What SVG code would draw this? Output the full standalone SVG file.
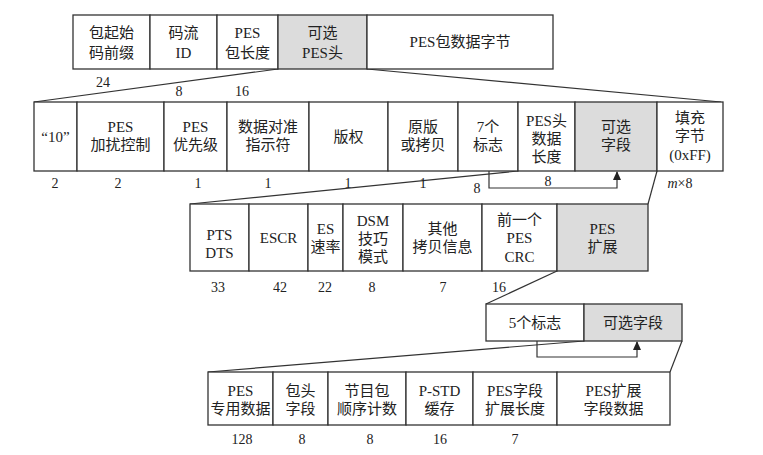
<svg xmlns="http://www.w3.org/2000/svg" width="763" height="455" viewBox="0 0 763 455">
<defs>
<style>
.b{fill:#fff;stroke:#333;stroke-width:1.3}
.g{fill:#dcdcdc;stroke:#333;stroke-width:1.3}
text{font-family:"Liberation Serif","Noto Sans CJK SC",serif;font-size:15px;fill:#222;text-anchor:middle;dominant-baseline:central}
.n{font-size:14px}
.c{fill:none;stroke:#333;stroke-width:1.2}
</style>
<marker id="ah" markerWidth="8" markerHeight="10" refX="4" refY="1" orient="0" markerUnits="userSpaceOnUse">
<path d="M0,9 L4,0 L8,9 Z" fill="#222"/>
</marker>
</defs>
<rect width="763" height="455" fill="#fff"/>
<g id="connectors">
<line class="c" x1="278" y1="69" x2="34" y2="102"/>
<line class="c" x1="367" y1="69" x2="721" y2="102"/>
<line class="c" x1="518" y1="171" x2="190" y2="204"/>
<line class="c" x1="657" y1="171" x2="648" y2="204"/>
<line class="c" x1="557" y1="271" x2="486" y2="304"/>
<line class="c" x1="584" y1="341" x2="208" y2="372"/>
<line class="c" x1="682" y1="341" x2="670" y2="372"/>
<path class="c" d="M489,171 V188 H617 V172" marker-end="url(#ah)"/>
<path class="c" d="M537,341 V357 H637 V342" marker-end="url(#ah)"/>
</g>
<!-- Row 1 -->
<g id="r1-start"><rect class="b" x="73" y="15" width="77" height="54"/><text x="111.5" y="33">包起始</text><text x="111.5" y="53">码前缀</text></g>
<g id="r1-id"><rect class="b" x="150" y="15" width="67" height="54"/><text x="183.5" y="33">码流</text><text x="183.5" y="53">ID</text></g>
<g id="r1-len"><rect class="b" x="217" y="15" width="61" height="54"/><text x="247.5" y="33">PES</text><text x="247.5" y="53">包长度</text></g>
<g id="r1-opt"><rect class="g" x="278" y="15" width="89" height="54"/><text x="322.5" y="33">可选</text><text x="322.5" y="53">PES头</text></g>
<g id="r1-data"><rect class="b" x="367" y="15" width="186" height="54"/><text x="460" y="42">PES包数据字节</text></g>
<g id="r1-labels"><text class="n" x="103" y="82">24</text><text class="n" x="179" y="91">8</text><text class="n" x="242" y="91">16</text></g>
<!-- Row 2 -->
<g id="r2-10"><rect class="b" x="34" y="102" width="43" height="69"/><text x="55.5" y="137">“10”</text></g>
<g id="r2-scr"><rect class="b" x="77" y="102" width="87" height="69"/><text x="120.5" y="127">PES</text><text x="120.5" y="145">加扰控制</text></g>
<g id="r2-pri"><rect class="b" x="164" y="102" width="63" height="69"/><text x="195.5" y="127">PES</text><text x="195.5" y="145">优先级</text></g>
<g id="r2-align"><rect class="b" x="227" y="102" width="82" height="69"/><text x="268" y="127">数据对准</text><text x="268" y="145">指示符</text></g>
<g id="r2-copy"><rect class="b" x="309" y="102" width="79" height="69"/><text x="348.5" y="137">版权</text></g>
<g id="r2-orig"><rect class="b" x="388" y="102" width="70" height="69"/><text x="423" y="127">原版</text><text x="423" y="145">或拷贝</text></g>
<g id="r2-flags"><rect class="b" x="458" y="102" width="60" height="69"/><text x="488" y="127">7个</text><text x="488" y="145">标志</text></g>
<g id="r2-hlen"><rect class="b" x="518" y="102" width="57" height="69"/><text x="546.5" y="121">PES头</text><text x="546.5" y="139">数据</text><text x="546.5" y="157">长度</text></g>
<g id="r2-opt"><rect class="g" x="575" y="102" width="82" height="69"/><text x="616" y="127">可选</text><text x="616" y="145">字段</text></g>
<g id="r2-stuff"><rect class="b" x="657" y="102" width="66" height="69"/><text x="690" y="118">填充</text><text x="690" y="136">字节</text><text x="690" y="155">(0xFF)</text></g>
<g id="r2-labels"><text class="n" x="55" y="183">2</text><text class="n" x="118" y="183">2</text><text class="n" x="198" y="183">1</text><text class="n" x="268" y="183">1</text><text class="n" x="348" y="183">1</text><text class="n" x="423" y="183">1</text><text class="n" x="477" y="188">8</text><text class="n" x="548" y="181">8</text><text class="n" x="680" y="183"><tspan font-style="italic">m</tspan>×8</text></g>
<!-- Row 3 -->
<g id="r3-pts"><rect class="b" x="190" y="204" width="59" height="67"/><text x="219.5" y="235">PTS</text><text x="219.5" y="253">DTS</text></g>
<g id="r3-escr"><rect class="b" x="249" y="204" width="59" height="67"/><text x="278.5" y="238">ESCR</text></g>
<g id="r3-es"><rect class="b" x="308" y="204" width="35" height="67"/><text x="325.5" y="229">ES</text><text x="325.5" y="247">速率</text></g>
<g id="r3-dsm"><rect class="b" x="343" y="204" width="60" height="67"/><text x="373" y="221">DSM</text><text x="373" y="239">技巧</text><text x="373" y="257">模式</text></g>
<g id="r3-other"><rect class="b" x="403" y="204" width="79" height="67"/><text x="442.5" y="229">其他</text><text x="442.5" y="247">拷贝信息</text></g>
<g id="r3-crc"><rect class="b" x="482" y="204" width="75" height="67"/><text x="519.5" y="220">前一个</text><text x="519.5" y="238">PES</text><text x="519.5" y="257">CRC</text></g>
<g id="r3-ext"><rect class="g" x="557" y="204" width="91" height="67"/><text x="602.5" y="229">PES</text><text x="602.5" y="247">扩展</text></g>
<g id="r3-labels"><text class="n" x="218" y="287">33</text><text class="n" x="280" y="287">42</text><text class="n" x="325" y="287">22</text><text class="n" x="372" y="287">8</text><text class="n" x="443" y="287">7</text><text class="n" x="499" y="287">16</text></g>
<!-- Row 4 -->
<g id="r4-flags"><rect class="b" x="486" y="304" width="98" height="37"/><text x="535" y="323">5个标志</text></g>
<g id="r4-opt"><rect class="g" x="584" y="304" width="98" height="37"/><text x="633" y="323">可选字段</text></g>
<!-- Row 5 -->
<g id="r5-priv"><rect class="b" x="208" y="372" width="65" height="53"/><text x="240.5" y="391">PES</text><text x="240.5" y="409">专用数据</text></g>
<g id="r5-pack"><rect class="b" x="273" y="372" width="55" height="53"/><text x="300.5" y="391">包头</text><text x="300.5" y="409">字段</text></g>
<g id="r5-seq"><rect class="b" x="328" y="372" width="78" height="53"/><text x="367" y="391">节目包</text><text x="367" y="409">顺序计数</text></g>
<g id="r5-pstd"><rect class="b" x="406" y="372" width="67" height="53"/><text x="439.5" y="391">P-STD</text><text x="439.5" y="409">缓存</text></g>
<g id="r5-elen"><rect class="b" x="473" y="372" width="84" height="53"/><text x="515" y="391">PES字段</text><text x="515" y="409">扩展长度</text></g>
<g id="r5-edata"><rect class="b" x="557" y="372" width="113" height="53"/><text x="613.5" y="391">PES扩展</text><text x="613.5" y="409">字段数据</text></g>
<g id="r5-labels"><text class="n" x="242" y="439">128</text><text class="n" x="302" y="439">8</text><text class="n" x="370" y="439">8</text><text class="n" x="440" y="439">16</text><text class="n" x="515" y="439">7</text></g>
</svg>
